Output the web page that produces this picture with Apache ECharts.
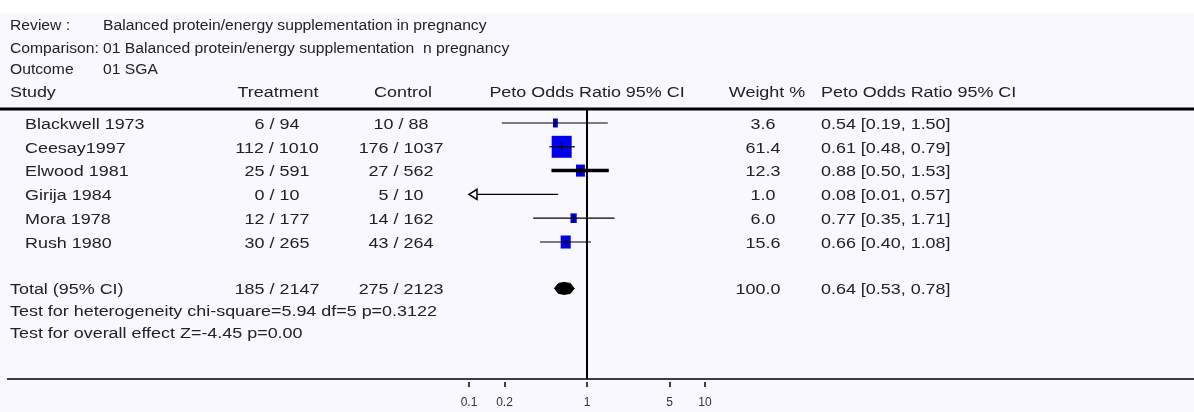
<!DOCTYPE html>
<html><head><meta charset="utf-8">
<script src="https://cdn.jsdelivr.net/npm/echarts@6/dist/echarts.min.js"></script>
<style>html,body{margin:0;padding:0;background:#fff}#c{width:1194px;height:412px}</style>
</head><body><div id="c"></div>
<script>
// ---- data ----
const studies = ['Blackwell 1973', 'Ceesay1997', 'Elwood 1981', 'Girija 1984', 'Mora 1978', 'Rush 1980'];
const treatEvents = [6, 112, 25, 0, 12, 30];
const treatTotal = [94, 1010, 591, 10, 177, 265];
const ctrlEvents = [10, 176, 27, 5, 14, 43];
const ctrlTotal = [88, 1037, 562, 10, 162, 264];
const weights = [3.6, 61.4, 12.3, 1.0, 6.0, 15.6];
const petoOR = [0.54, 0.61, 0.88, 0.08, 0.77, 0.66];
const ciLow = [0.19, 0.48, 0.50, 0.01, 0.35, 0.40];
const ciHigh = [1.50, 0.79, 1.53, 0.57, 1.71, 1.08];
const totalLabel = 'Total (95% CI)';
const totalTreat = [185, 2147];
const totalCtrl = [275, 2123];
const totalWeight = 100.0;
const totalOR = [0.64, 0.53, 0.78];
const xTicks = [0.1, 0.2, 1, 5, 10];
const headerLines = [
  ['Review :', 'Balanced protein/energy supplementation in pregnancy'],
  ['Comparison:', '01 Balanced protein/energy supplementation  n pregnancy'],
  ['Outcome', '01 SGA']
];
const columnHeads = ['Study', 'Treatment', 'Control', 'Peto Odds Ratio 95% CI', 'Weight %', 'Peto Odds Ratio 95% CI'];
const testLines = ['Test for heterogeneity chi-square=5.94 df=5 p=0.3122', 'Test for overall effect Z=-4.45 p=0.00'];

// ---- styles / layout ----
const FONT = '14px "Liberation Sans", Arial, sans-serif';
const SX_HEAD = 1.12;
const SX = 1.28;
const TXT = '#222';
const BG = '#f8f8fe';
const DY = 2;
const thickRows = ['Elwood 1981'];
const TOTAL_ROW = 6.95, TEST_ROWS = [7.86, 8.78];
const lg = v => Math.log10(v);
const AX_MIN = -1, AX_MAX = 1;

function txt(x, y, s, align, sx) {
  return { type: 'text', x: x, y: y + DY, scaleX: sx || SX,
    style: { text: s, font: FONT, fill: TXT, textAlign: align || 'left', textVerticalAlign: 'middle' } };
}
const fmt = v => v.toFixed(2);
const ciText = (o, l, h) => fmt(o) + ' [' + fmt(l) + ', ' + fmt(h) + ']';

const chart = echarts.init(document.getElementById('c'), null, { renderer: 'canvas' });

const forestData = studies.map((s, i) => [i, lg(petoOR[i]), lg(ciLow[i]), lg(ciHigh[i]), weights[i]]);

const tableRows = [];
studies.forEach((s, i) => tableRows.push({ row: i, kind: 'study', i: i }));
tableRows.push({ row: TOTAL_ROW, kind: 'total' });
testLines.forEach((t, k) => tableRows.push({ row: TEST_ROWS[k], kind: 'test', k: k }));

const graphic = [
  { type: 'rect', shape: { x: 0, y: 0, width: 1194, height: 13 }, style: { fill: '#ffffff' }, z: -10 },
  { type: 'line', shape: { x1: 0, y1: 109, x2: 1194, y2: 109 }, style: { stroke: '#000', lineWidth: 3 } },
  { type: 'line', shape: { x1: 7, y1: 379, x2: 1194, y2: 379 }, style: { stroke: '#000', lineWidth: 1.5 } },
];
const hy = [24, 47, 68];
headerLines.forEach((h, k) => { graphic.push(txt(10, hy[k], h[0], 'left', SX_HEAD)); graphic.push(txt(103, hy[k], h[1], 'left', SX_HEAD)); });
graphic.push(txt(10, 91, columnHeads[0]));
graphic.push(txt(278, 91, columnHeads[1], 'center'));
graphic.push(txt(403, 91, columnHeads[2], 'center'));
graphic.push(txt(587, 91, columnHeads[3], 'center'));
graphic.push(txt(767, 91, columnHeads[4], 'center'));
graphic.push(txt(821, 91, columnHeads[5]));

chart.setOption({
  backgroundColor: BG,
  animation: false,
  graphic: graphic,
  grid: { left: 469, width: 236, top: 110, height: 269, containLabel: false },
  xAxis: {
    type: 'value', min: AX_MIN, max: AX_MAX, offset: 3, position: 'bottom',
    axisLine: { show: false, onZero: false },
    splitLine: { show: false },
    axisTick: { show: true, length: 5, customValues: xTicks.map(lg), lineStyle: { color: '#000', width: 1.5 } },
    axisLabel: { customValues: xTicks.map(lg), margin: 15, color: '#333', fontSize: 12, fontFamily: 'Liberation Sans',
      formatter: v => { const t = xTicks.find(x => Math.abs(lg(x) - v) < 1e-6); return t === undefined ? '' : String(t); } }
  },
  yAxis: { type: 'value', inverse: true, min: -0.546, max: 10.756, show: false },
  series: [
    {
      type: 'custom', name: 'studies', clip: false, data: forestData,
      encode: { x: [1, 2, 3], y: 0 },
      renderItem: function (params, api) {
        const i = api.value(0);
        const name = studies[params.dataIndex];
        const lo = api.value(2), hi = api.value(3), est = api.value(1), w = api.value(4);
        const pl = api.coord([Math.max(lo, AX_MIN), i]);
        const ph = api.coord([Math.min(hi, AX_MAX), i]);
        const y = pl[1];
        const ch = [];
        const lw = thickRows.indexOf(name) >= 0 ? 3.5 : 1.2;
        if (est >= AX_MIN && est <= AX_MAX) {
          const pc = api.coord([est, i]);
          const bw = 2.55 * Math.sqrt(w);
          const bh = Math.max(9, bw * 0.9 + 4);
          ch.push({ type: 'rect', shape: { x: pc[0] - bw / 2, y: y - bh / 2, width: bw, height: bh }, style: { fill: '#0000f0' } });
          ch.push({ type: 'line', shape: { x1: pc[0], y1: y - 4, x2: pc[0], y2: y + 4 }, style: { stroke: '#000', lineWidth: 1.2 } });
        }
        ch.push({ type: 'line', shape: { x1: pl[0], y1: y, x2: ph[0], y2: y }, style: { stroke: '#000', lineWidth: lw } });
        if (lo < AX_MIN) {
          ch.push({ type: 'polygon', shape: { points: [[pl[0], y], [pl[0] + 8, y - 5], [pl[0] + 8, y + 5]] },
            style: { fill: BG, stroke: '#000', lineWidth: 1.5 } });
        }
        return { type: 'group', children: ch };
      },
      markLine: {
        silent: true, symbol: 'none', label: { show: false },
        lineStyle: { color: '#000', width: 2, type: 'solid' },
        data: [{ xAxis: 0 }]
      }
    },
    {
      type: 'custom', name: 'total', clip: false,
      data: [[TOTAL_ROW, lg(totalOR[0]), lg(totalOR[1]), lg(totalOR[2])]],
      encode: { x: [1, 2, 3], y: 0 },
      renderItem: function (params, api) {
        const r = api.value(0);
        const c = api.coord([api.value(1), r]);
        const l = api.coord([api.value(2), r]);
        const h = api.coord([api.value(3), r]);
        return { type: 'polygon', shape: { points: [[l[0], c[1]], [l[0] + 4, c[1] - 5], [c[0], c[1] - 6], [h[0] - 4, c[1] - 5], [h[0], c[1]], [h[0] - 4, c[1] + 5], [c[0], c[1] + 6], [l[0] + 4, c[1] + 5]] },
          style: { fill: '#000', stroke: '#000', lineWidth: 1 } };
      }
    },
    {
      type: 'custom', name: 'table', clip: false, silent: true,
      data: tableRows.map(r => [0, r.row]),
      encode: { x: 0, y: 1 },
      renderItem: function (params, api) {
        const r = tableRows[params.dataIndex];
        const y = api.coord([0, api.value(1)])[1];
        const ch = [];
        if (r.kind === 'study') {
          const i = r.i;
          ch.push(txt(25, y, studies[i]));
          ch.push(txt(277, y, treatEvents[i] + ' / ' + treatTotal[i], 'center'));
          ch.push(txt(401, y, ctrlEvents[i] + ' / ' + ctrlTotal[i], 'center'));
          ch.push(txt(763, y, weights[i].toFixed(1), 'center'));
          ch.push(txt(821, y, ciText(petoOR[i], ciLow[i], ciHigh[i])));
        } else if (r.kind === 'total') {
          ch.push(txt(10, y, totalLabel));
          ch.push(txt(277, y, totalTreat[0] + ' / ' + totalTreat[1], 'center'));
          ch.push(txt(401, y, totalCtrl[0] + ' / ' + totalCtrl[1], 'center'));
          ch.push(txt(758, y, totalWeight.toFixed(1), 'center'));
          ch.push(txt(821, y, ciText(totalOR[0], totalOR[1], totalOR[2])));
        } else {
          ch.push(txt(10, y, testLines[r.k]));
        }
        return { type: 'group', children: ch };
      }
    }
  ]
});
</script></body></html>
